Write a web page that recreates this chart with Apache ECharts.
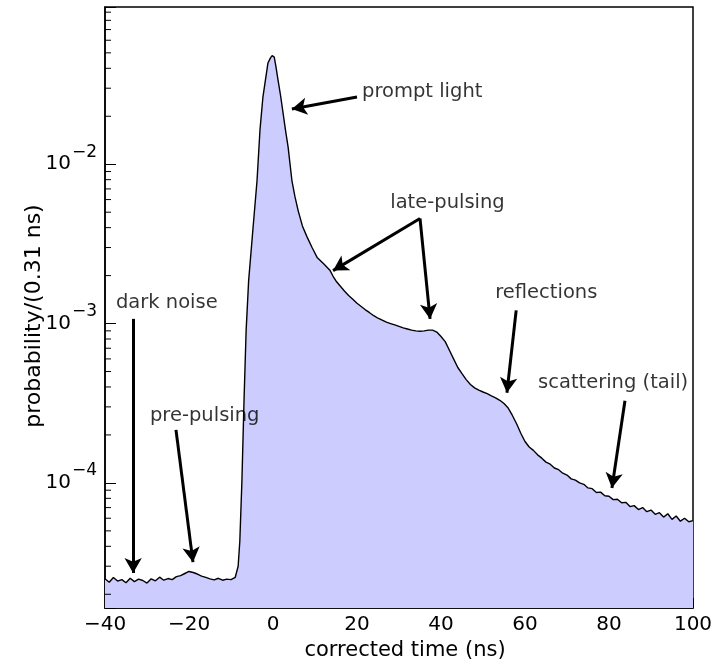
<!DOCTYPE html>
<html><head><meta charset="utf-8">
<script src="https://cdn.jsdelivr.net/npm/echarts@6/dist/echarts.min.js"></script>
<style>html,body{margin:0;padding:0;background:#fff}#c{width:727px;height:668px}</style>
</head><body><div id="c"></div>
<script>
// ---- data ----
const timeNs = [
  -40,-39,-38,-37,-36,-35,-34,-33,-32,-31,-30,-29,-28,-27,-26,-25,-24,-23,-22,-21,-20,-19,-18,-17,-16,-15,-14,-13,-12,-11,-10,-9,
  -8.3,-7.9,-7.4,-6.9,-6.4,-5.8,-4.8,-3.8,-3.1,-2.4,-1.2,-0.6,-0.2,0.3,0.7,1.2,1.8,2.4,3.0,3.6,4.5,5.2,6.0,7.0,8.1,9.3,10.5,12.0,13.6,14.3,
  15,16,17,18,19,20,21,22,23,24,25,26,27,28,29,30,31,32,33,34,35,36,37,38,39,40,41,42,
  43,44,45,46,47,48,49,50,51,52,53,54,55,56,57,58,59,
  60,61,62,63,64,65,66,67,68,69,70,71,72,73,74,75,76,77,78,79,80,81,82,83,84,85,86,87,88,89,90,91,92,93,94,95,96,97,98,99,100
];
const prob = [
  2.50e-5,2.38e-5,2.55e-5,2.42e-5,2.47e-5,2.36e-5,2.52e-5,2.40e-5,2.49e-5,2.44e-5,2.35e-5,2.50e-5,2.43e-5,2.56e-5,2.45e-5,2.51e-5,2.47e-5,2.58e-5,2.62e-5,2.70e-5,2.78e-5,2.74e-5,2.68e-5,2.60e-5,2.55e-5,2.50e-5,2.46e-5,2.52e-5,2.45e-5,2.49e-5,2.47e-5,2.55e-5,
  3.0e-5,4.3e-5,1.03e-4,3.28e-4,9.0e-4,1.86e-3,3.85e-3,7.9e-3,1.64e-2,2.64e-2,4.32e-2,4.65e-2,4.8e-2,4.7e-2,4.1e-2,3.37e-2,2.7e-2,2.09e-2,1.62e-2,1.28e-2,7.9e-3,6.3e-3,5.1e-3,4.1e-3,3.5e-3,3.0e-3,2.6e-3,2.38e-3,2.15e-3,1.98e-3,
  1.85e-3,1.72e-3,1.60e-3,1.50e-3,1.42e-3,1.34e-3,1.28e-3,1.22e-3,1.17e-3,1.12e-3,1.08e-3,1.05e-3,1.02e-3,1.0e-3,9.8e-4,9.6e-4,9.4e-4,9.25e-4,9.1e-4,9.0e-4,8.95e-4,9.0e-4,9.1e-4,9.1e-4,8.85e-4,8.3e-4,7.7e-4,6.8e-4,
  6.0e-4,5.3e-4,4.85e-4,4.45e-4,4.15e-4,3.95e-4,3.82e-4,3.72e-4,3.63e-4,3.52e-4,3.42e-4,3.30e-4,3.15e-4,2.95e-4,2.65e-4,2.35e-4,2.05e-4,
  1.82e-4,1.68e-4,1.60e-4,1.50e-4,1.43e-4,1.35e-4,1.31e-4,1.24e-4,1.21e-4,1.15e-4,1.12e-4,1.06e-4,1.04e-4,1.00e-4,9.8e-5,9.3e-5,9.2e-5,8.7e-5,8.75e-5,8.3e-5,8.25e-5,7.85e-5,7.9e-5,7.5e-5,7.55e-5,7.1e-5,7.2e-5,6.8e-5,7.0e-5,6.6e-5,6.75e-5,6.35e-5,6.5e-5,6.1e-5,6.4e-5,5.9e-5,6.2e-5,5.75e-5,6.0e-5,5.7e-5,5.8e-5
];
const xRange = [-40, 100];
const xTickStep = 20;
const yRange = [1.64e-5, 0.097];
const yMinorMultipliers = [2,3,4,5,6,7,8,9];
const yDecades = [1e-5, 1e-4, 1e-3, 1e-2];

const annotationLabels = ['prompt light','late-pulsing','dark noise','pre-pulsing','reflections','scattering (tail)'];
const annotationX = [21.2, 27.9, -37.4, -29.3, 52.9, 63.1];
const annotationY = [0.0284, 0.00569, 0.00134, 2.64e-4, 0.00155, 4.26e-4];

const arrowFrom = [[-33.3,1.07e-3],[-23.1,2.15e-4],[20.0,0.0264],[35.0,0.00457],[35.0,0.00457],[57.9,1.21e-3],[83.8,3.28e-4]];
const arrowTo   = [[-33.3,2.72e-5],[-19.05,3.18e-5],[4.5,0.0222],[14.3,0.00215],[37.4,1.07e-3],[55.7,3.68e-4],[80.7,9.3e-5]];

// ---- chart ----
const FONT = 'DejaVu Sans';
const histData = timeNs.map((t, i) => [t, prob[i]]);
const yMinor = [];
yDecades.forEach(d => yMinorMultipliers.forEach(m => { const v = d * m; if (v > yRange[0] && v < yRange[1]) yMinor.push(v); }));

const chart = echarts.init(document.getElementById('c'), null, {renderer: 'canvas'});
chart.setOption({
  animation: false,
  backgroundColor: '#fff',
  grid: {left: 105, right: 34, top: 7, bottom: 60, show: true, borderColor: '#000', borderWidth: 1.5, backgroundColor: 'transparent'},
  xAxis: {
    type: 'value', min: xRange[0], max: xRange[1], interval: xTickStep,
    name: 'corrected time (ns)', nameLocation: 'middle', nameGap: 30,
    nameTextStyle: {fontFamily: FONT, fontSize: 21, color: '#000', padding: [0, 0, 0, 12]},
    axisLine: {show: true, onZero: false, lineStyle: {color: '#000', width: 1.5}},
    axisTick: {show: true, inside: true, length: 10, lineStyle: {color: '#000', width: 1}},
    minorTick: {show: true, splitNumber: 4, length: 5, lineStyle: {color: '#000', width: 1}},
    splitLine: {show: false},
    axisLabel: {fontFamily: FONT, fontSize: 20, color: '#000', margin: 7,
      formatter: v => String(v).replace('-', '\u2212')}
  },
  yAxis: {
    type: 'log', logBase: 10, min: yRange[0], max: yRange[1], splitNumber: 5,
    axisLine: {show: true, onZero: false, lineStyle: {color: '#000', width: 1.5}},
    axisTick: {show: true, inside: true, length: 11, lineStyle: {color: '#000', width: 1}},
    splitLine: {show: false},
    axisLabel: {
      margin: 8,
      formatter: v => {
        const e = Math.log10(v), r = Math.round(e);
        if (Math.abs(e - r) > 1e-6) return '';
        return '{b|10}{e|' + (r < 0 ? '\u2212' : '') + Math.abs(r) + '}';
      },
      rich: {
        b: {fontFamily: FONT, fontSize: 20, color: '#000', verticalAlign: 'middle'},
        e: {fontFamily: FONT, fontSize: 17, color: '#000', verticalAlign: 'middle', padding: [0, 0, 24, 1]}
      }
    }
  },
  graphic: [{
    type: 'text', x: 34, y: 316, rotation: Math.PI / 2,
    style: {text: 'probability/(0.31 ns)', fontFamily: FONT, fontSize: 22, fill: '#000', align: 'center', verticalAlign: 'middle'}
  }],
  series: [
    {
      type: 'line', data: histData, showSymbol: false, symbol: 'none', silent: true,
      lineStyle: {color: '#000', width: 1.4},
      areaStyle: {color: '#ccccff', opacity: 1, origin: 'start'},
      z: 2
    },
    {
      type: 'line', data: [], silent: true,
      markLine: {
        silent: true, animation: false,
        symbol: ['none', 'arrow'], symbolSize: [13, 15],
        lineStyle: {color: '#000', width: 3, type: 'solid'},
        label: {show: false},
        emphasis: {disabled: true},
        data: arrowFrom.map((f, i) => [{coord: f}, {coord: arrowTo[i]}])
      },
      z: 5
    },
    {
      type: 'scatter', silent: true, symbolSize: 0.1, itemStyle: {color: 'rgba(0,0,0,0)'},
      data: annotationX.map((x, i) => ({value: [x, annotationY[i]], name: annotationLabels[i]})),
      label: {show: true, position: 'right', distance: 0, formatter: p => p.name,
        fontFamily: FONT, fontSize: 19.5, color: '#000'},
      z: 6
    },
    {
      type: 'custom', silent: true, clip: false,
      data: yMinor.map(v => [xRange[0], v]),
      renderItem: (params, api) => {
        const p = api.coord([api.value(0), api.value(1)]);
        return {type: 'line', shape: {x1: p[0], y1: p[1], x2: p[0] + 6, y2: p[1]},
          style: {stroke: '#000', lineWidth: 1}};
      },
      z: 10
    }
  ]
});
</script>
</body></html>
